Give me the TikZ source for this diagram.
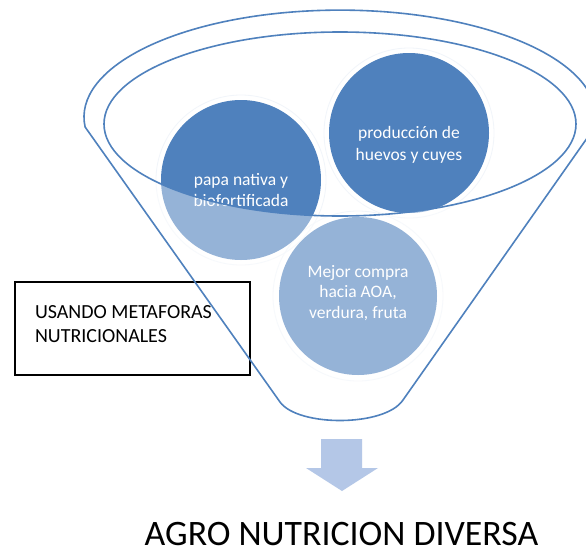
\documentclass[tikz,border=0pt]{standalone}
\usepackage{fontspec}
\setmainfont{Carlito}
\definecolor{accent}{HTML}{4F81BD}
\definecolor{arrowblue}{RGB}{180,199,231}
\tikzset{
  ball/.style={circle, fill=accent, minimum size=160pt, inner sep=0pt},
  glow/.style={circle, draw=accent!8, line width=0.8pt, minimum size=170pt, inner sep=0pt},
  balltext/.style={text=white, align=center, inner sep=0pt, font=\fontsize{17.5}{21.5}\selectfont},
  funnelline/.style={draw=accent, line width=1.6pt, line join=round},
  boxnode/.style={draw=black, line width=1.3pt, rectangle, minimum width=235pt, minimum height=93pt,
    inner xsep=20pt, text width=195pt, align=flush left, font=\fontsize{20}{24.5}\selectfont},
  titletext/.style={font=\fontsize{35.8}{42}\selectfont, inner sep=0pt}
}
\begin{document}
\begin{tikzpicture}[x=1pt,y=-1pt]
\clip (0,0) rectangle (586,549);
\fill[white] (0,0) rectangle (586,549);
% circles (glow rings first)
\node[glow] (papaglow) at (241,180) {};
\node[glow] (huevoglow) at (409,133) {};
\node[glow] (mejorglow) at (358,296) {};
\node[ball] (papa) at (241,180) {};
\node[ball] (huevo) at (409,133) {};
\node[ball, minimum size=158pt] (mejor) at (358,296) {};
\node[balltext] (papat) at (241,190) {papa nativa y\\biofortificada};
\node[balltext] (huevot) at (409,145) {producción de\\huevos y cuyes};
\node[balltext, font=\fontsize{17.5}{20.5}\selectfont] (mejort) at (358,293) {Mejor compra\\hacia AOA,\\verdura, fruta};
% semi-transparent front face of the funnel
\coordinate (L) at (85.1,127);
\coordinate (R) at (594.9,127);
\coordinate (BR) at (403,400);
\coordinate (BL) at (280,402);
\fill[white, opacity=0.4, even odd rule]
  (L) arc[start angle=185.3, end angle=-5.3, x radius=256pt, y radius=107pt]
  -- (BR) .. controls (385,427) and (298,427) .. (BL) -- cycle
  (340,124) ellipse [x radius=236pt, y radius=92pt];
% text box
\node[boxnode] (box) at (132.5,328.5) {USANDO METAFORAS\\NUTRICIONALES\rule[-9pt]{0pt}{9pt}};
% funnel outline
\draw[funnelline]
  (L) arc[start angle=185.3, end angle=-5.3, x radius=256pt, y radius=107pt]
  -- (BR) .. controls (385,427) and (298,427) .. (BL) -- cycle;
\draw[funnelline] (340,124) ellipse [x radius=236pt, y radius=92pt];
% down arrow
\fill[arrowblue] (321,439) -- (362,439) -- (362,468) -- (378,468) -- (342,491)
  -- (306,468) -- (321,468) -- cycle;
% title
\node[titletext, anchor=base] (title) at (341.5,545.5) {AGRO NUTRICION DIVERSA};
\end{tikzpicture}
\end{document}
